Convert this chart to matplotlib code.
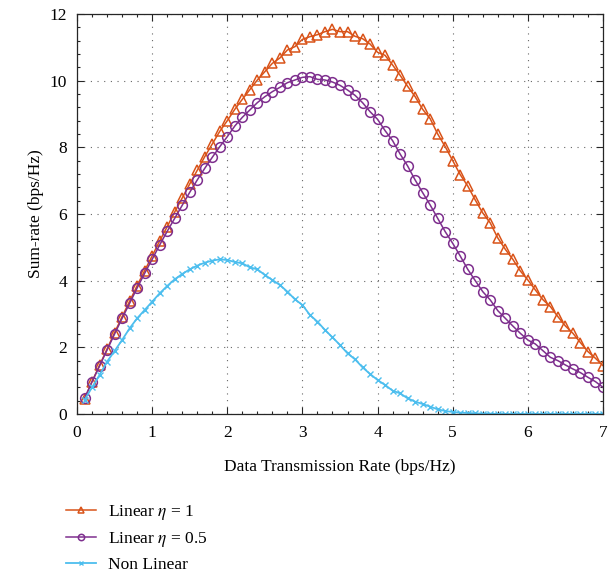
import numpy as np
import matplotlib
matplotlib.use('Agg')
import matplotlib.pyplot as plt
from matplotlib.ticker import MultipleLocator

plt.rcParams['font.family'] = ['Liberation Serif', 'DejaVu Serif']
plt.rcParams['mathtext.fontset'] = 'stix'

# sum-rate vs. data transmission rate
rate = [round(0.1 * k, 1) for k in range(1, 71)]

linear_eta1 = [0.45, 0.97, 1.46, 1.95, 2.44, 2.92, 3.38, 3.85, 4.30, 4.74,
               5.19, 5.62, 6.06, 6.48, 6.90, 7.31, 7.72, 8.10, 8.48, 8.80,
               9.14, 9.44, 9.73, 10.02, 10.27, 10.52, 10.68, 10.92, 11.02, 11.24,
               11.32, 11.38, 11.47, 11.54, 11.47, 11.47, 11.33, 11.26, 11.10, 10.85,
               10.76, 10.47, 10.16, 9.83, 9.52, 9.14, 8.86, 8.40, 8.02, 7.60,
               7.18, 6.84, 6.42, 6.03, 5.73, 5.28, 4.94, 4.64, 4.29, 4.02,
               3.72, 3.43, 3.22, 2.92, 2.64, 2.42, 2.14, 1.87, 1.67, 1.45]

linear_eta05 = [0.47, 0.97, 1.44, 1.92, 2.40, 2.87, 3.32, 3.78, 4.22, 4.64,
                5.07, 5.48, 5.87, 6.26, 6.65, 7.02, 7.37, 7.70, 8.02, 8.32,
                8.64, 8.90, 9.12, 9.34, 9.52, 9.67, 9.80, 9.94, 10.02, 10.10,
                10.12, 10.04, 10.02, 9.96, 9.86, 9.72, 9.56, 9.34, 9.07, 8.84,
                8.50, 8.20, 7.80, 7.44, 7.02, 6.64, 6.27, 5.87, 5.47, 5.12,
                4.74, 4.34, 4.00, 3.67, 3.42, 3.10, 2.87, 2.64, 2.42, 2.22,
                2.10, 1.90, 1.70, 1.60, 1.47, 1.35, 1.24, 1.10, 0.97, 0.80]

non_linear = [0.42, 0.80, 1.17, 1.57, 1.89, 2.22, 2.57, 2.87, 3.12, 3.37,
              3.62, 3.84, 4.04, 4.20, 4.34, 4.45, 4.54, 4.60, 4.64, 4.62,
              4.56, 4.52, 4.40, 4.34, 4.17, 4.02, 3.87, 3.67, 3.44, 3.27,
              2.97, 2.77, 2.52, 2.30, 2.07, 1.82, 1.64, 1.40, 1.20, 1.02,
              0.87, 0.70, 0.62, 0.47, 0.37, 0.30, 0.22, 0.14, 0.09, 0.06,
              0.04, 0.03, 0.02, 0.01, 0.01, 0.0, 0.0, 0.0, 0.0, 0.0,
              0.0, 0.0, 0.0, 0.0, 0.0, 0.0, 0.0, 0.0, 0.0, 0.0]

fig = plt.figure(figsize=(6.13, 5.78), dpi=100)
ax = fig.add_axes([77 / 613, 1 - 414 / 578, 526 / 613, 400 / 578])

ax.plot(rate, linear_eta1, color='#D95319', marker='^', ms=7.5, mfc='none',
        mew=1.1, lw=1.1, label=r'Linear $\eta$ = 1')
ax.plot(rate, linear_eta05, color='#7E2F8E', marker='o', ms=7, mfc='none',
        mew=1.1, lw=1.1, label=r'Linear $\eta$ = 0.5')
ax.plot(rate, non_linear, color='#4DBEEE', marker='x', ms=4.5,
        mew=1.0, lw=1.3, label='Non Linear')

ax.set_xlim(0, 7)
ax.set_ylim(0, 12)
ax.xaxis.set_major_locator(MultipleLocator(1))
ax.xaxis.set_minor_locator(MultipleLocator(0.2))
ax.yaxis.set_major_locator(MultipleLocator(2))
ax.yaxis.set_minor_locator(MultipleLocator(0.4))
ax.tick_params(which='both', direction='in', top=True, right=True,
               labelsize=12.5, colors='#262626', width=0.8)
ax.tick_params(which='major', length=5)
ax.tick_params(axis='x', which='major', pad=8)
ax.tick_params(axis='y', which='major', pad=7)
ax.tick_params(which='minor', length=2.5)
for s in ax.spines.values():
    s.set_color('#262626')
    s.set_linewidth(0.9)
for lab in ax.get_xticklabels() + ax.get_yticklabels():
    lab.set_color('black')
ax.grid(True, which='major', color='#666666', linestyle=(0, (1, 5)), linewidth=0.8)

ax.set_xlabel('Data Transmission Rate (bps/Hz)', fontsize=12.5, labelpad=13)
ax.set_ylabel('Sum-rate (bps/Hz)', fontsize=12.5, labelpad=4)

fig.legend(loc='upper left', bbox_to_anchor=(0.096, 1 - 496 / 578), frameon=False,
           fontsize=12.5, handlelength=1.75, handletextpad=0.7, labelspacing=0.45,
           markerscale=0.65, borderaxespad=0)

fig.savefig('out.png', dpi=100)
